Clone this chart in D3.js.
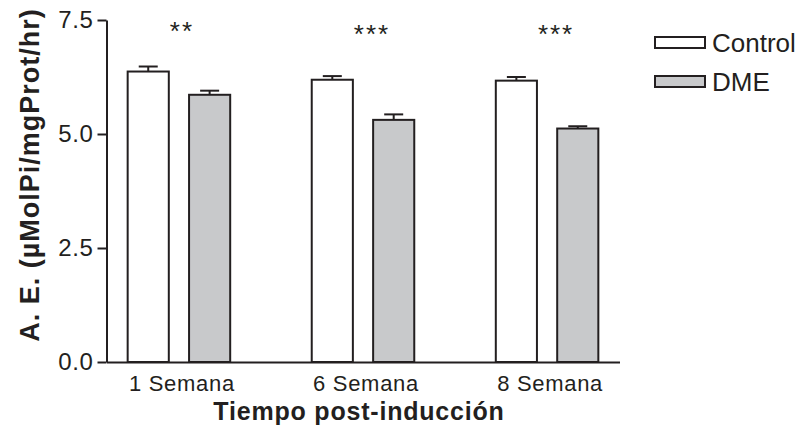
<!DOCTYPE html>
<html>
<head>
<meta charset="utf-8">
<script src="https://cdn.jsdelivr.net/npm/d3@7"></script>
<style>
  html, body { margin: 0; padding: 0; background: #fff; }
  svg { display: block; }
  text { font-family: "Liberation Sans", Arial, sans-serif; fill: #231f20; }
</style>
</head>
<body>
<svg id="chart" width="804" height="434"></svg>
<script>
// Enzyme activity per week after induction
const groups = ["1 Semana", "6 Semana", "8 Semana"];
const seriesNames = ["Control", "DME"];
const controlMeans = [6.37, 6.19, 6.17];
const controlSEM = [0.11, 0.08, 0.08];
const dmeMeans = [5.86, 5.31, 5.12];
const dmeSEM = [0.09, 0.12, 0.05];
const significance = ["**", "***", "***"];
const yTicks = [0, 2.5, 5.0, 7.5];

const ink = "#231f20";
const fills = { Control: "#ffffff", DME: "#c8c9cb" };
const fontStack = "'Liberation Sans', Arial, sans-serif";

const rows = groups.map((g, i) => ({
  group: g,
  sig: significance[i],
  bars: [
    { series: "Control", mean: controlMeans[i], sem: controlSEM[i] },
    { series: "DME", mean: dmeMeans[i], sem: dmeSEM[i] }
  ]
}));

const svg = d3.select("#chart");

const y = d3.scaleLinear().domain([0, 7.5]).range([362, 20]);
const x0 = d3.scaleBand().domain(groups).range([106.5, 619.5])
  .paddingInner(0.443).paddingOuter(0.115);
const x1 = d3.scaleBand().domain(seriesNames).range([0, x0.bandwidth()])
  .paddingInner(0.33).paddingOuter(0);

// Y axis
const yAxis = svg.append("g")
  .attr("transform", "translate(106.5,0)")
  .call(d3.axisLeft(y).tickValues(yTicks).tickFormat(d3.format(".1f"))
    .tickSize(9).tickSizeOuter(0).tickPadding(4));
yAxis.select(".domain").attr("stroke", ink).attr("stroke-width", 2);
yAxis.selectAll(".tick line").attr("stroke", ink).attr("stroke-width", 2);
yAxis.selectAll(".tick text").attr("font-size", 24).attr("fill", ink)
  .style("font-family", fontStack).style("letter-spacing", "0.6px");

// X axis
const xAxis = svg.append("g")
  .attr("transform", "translate(0,362)")
  .call(d3.axisBottom(x0).tickSize(0).tickSizeOuter(0).tickPadding(13));
xAxis.select(".domain").attr("stroke", ink).attr("stroke-width", 2);
xAxis.selectAll(".tick text").attr("font-size", 22).attr("fill", ink)
  .attr("dx", 3)
  .style("font-family", fontStack)
  .style("letter-spacing", "0.7px");

// Bars
const gGroup = svg.append("g").selectAll("g").data(rows).join("g")
  .attr("transform", d => `translate(${x0(d.group)},0)`);

gGroup.selectAll("rect").data(d => d.bars).join("rect")
  .attr("x", d => x1(d.series))
  .attr("y", d => y(d.mean))
  .attr("width", x1.bandwidth())
  .attr("height", d => y(0) - y(d.mean))
  .attr("fill", d => fills[d.series])
  .attr("stroke", ink)
  .attr("stroke-width", 2);

// Error bars (upper whisker only)
const capW = 19;
const eb = gGroup.selectAll("g.err").data(d => d.bars).join("g").attr("class", "err");
eb.append("line")
  .attr("x1", d => x1(d.series) + x1.bandwidth() / 2)
  .attr("x2", d => x1(d.series) + x1.bandwidth() / 2)
  .attr("y1", d => y(d.mean))
  .attr("y2", d => y(d.mean + d.sem))
  .attr("stroke", ink).attr("stroke-width", 2);
eb.append("line")
  .attr("x1", d => x1(d.series) + x1.bandwidth() / 2 - capW / 2)
  .attr("x2", d => x1(d.series) + x1.bandwidth() / 2 + capW / 2)
  .attr("y1", d => y(d.mean + d.sem))
  .attr("y2", d => y(d.mean + d.sem))
  .attr("stroke", ink).attr("stroke-width", 2);

// Significance marks
gGroup.append("text")
  .attr("x", (d, i) => x0.bandwidth() / 2 + (i === 0 ? 3 : 9))
  .attr("y", (d, i) => 40 + (i > 0 ? 3 : 0))
  .attr("text-anchor", "middle")
  .attr("font-size", 26)
  .style("letter-spacing", "2px")
  .text(d => d.sig);

// Axis titles
svg.append("text")
  .attr("x", 359).attr("y", 420)
  .attr("text-anchor", "middle")
  .attr("font-size", 25).attr("font-weight", "bold")
  .style("letter-spacing", "0.8px")
  .text("Tiempo post-inducción");

svg.append("text")
  .attr("transform", "translate(39,175) rotate(-90)")
  .attr("text-anchor", "middle")
  .attr("font-size", 27).attr("font-weight", "bold")
  .style("letter-spacing", "1px")
  .text("A. E. (µMolPi/mgProt/hr)");

// Legend
const legend = svg.append("g").selectAll("g").data(seriesNames).join("g")
  .attr("transform", (d, i) => `translate(655,${37 + i * 39})`);
legend.append("rect")
  .attr("width", 50).attr("height", 11)
  .attr("fill", d => fills[d]).attr("stroke", ink).attr("stroke-width", 2);
legend.append("text")
  .attr("x", 57).attr("y", 15)
  .attr("font-size", 26)
  .text(d => d);
</script>
</body>
</html>
